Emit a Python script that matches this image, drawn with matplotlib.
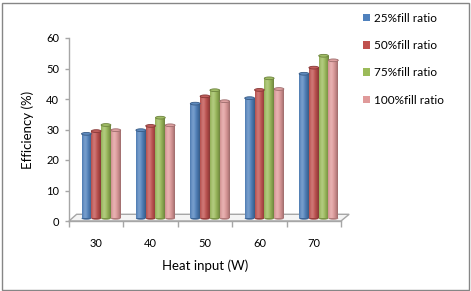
import numpy as np
import matplotlib
matplotlib.use("Agg")
import matplotlib.pyplot as plt
from matplotlib.patches import Ellipse, Polygon, Patch, Rectangle
from matplotlib.colors import to_rgb

plt.rcParams['font.family'] = ['Lato', 'DejaVu Sans']

heat_input = ["30", "40", "50", "60", "70"]
fill25 = [27.7, 28.9, 37.6, 39.4, 47.4]
fill50 = [28.6, 30.3, 40.0, 42.1, 49.4]
fill75 = [30.6, 33.0, 42.0, 45.9, 53.3]
fill100 = [28.9, 30.5, 38.4, 42.4, 51.8]
series_names = ["25%fill ratio", "50%fill ratio", "75%fill ratio", "100%fill ratio"]
series_colors = ["#4F81BD", "#C0504D", "#9BBB59", "#E09A9A"]

series = [fill25, fill50, fill75, fill100]

fig = plt.figure(figsize=(4.71, 2.91), dpi=100)
ax = fig.add_axes([69 / 471, 70 / 291, 272 / 471, 183 / 291])

bar_w = 0.18
shift = 0.09       # 3d depth offset along x
floor_z = 0.88     # bars stand in the middle of the floor
cap_h = 0.9


def shade(color, t):
    # t in [0,1] across the cylinder: dark edges, light stripe near 0.3
    c = np.array(to_rgb(color))
    light = np.exp(-((t - 0.32) / 0.25) ** 2)
    dark = np.clip(np.abs(t - 0.35) / 0.65, 0, 1) ** 2
    out = c * (1 - 0.3 * dark)
    out = out + (1 - out) * 0.22 * light
    return np.clip(out, 0, 1)


x = np.arange(len(heat_input)) + 0.5 + shift
t = np.linspace(0, 1, 40)

for k, (vals, col) in enumerate(zip(series, series_colors)):
    pos = x + (k - 1.5) * bar_w
    bars = ax.bar(pos, vals, width=bar_w, bottom=floor_z, color=col,
                  linewidth=0, zorder=3)
    grad = np.array([shade(col, tt) for tt in t])[None, :, :]
    for b in bars:
        bx, by = b.get_x(), b.get_y()
        bw, bh = b.get_width(), b.get_height()
        im = ax.imshow(grad, extent=(bx, bx + bw, by, by + bh),
                       aspect='auto', zorder=3.5, interpolation='bilinear')
        im.set_clip_path(b)
        cap = Ellipse((bx + bw / 2, by + bh), bw, cap_h,
                      facecolor=shade(col, 0.55), edgecolor=shade(col, 1.0),
                      linewidth=0.6, zorder=4)
        ax.add_patch(cap)
        base = Ellipse((bx + bw / 2, by), bw, cap_h,
                       facecolor=shade(col, 0.9), linewidth=0, zorder=3.2)
        ax.add_patch(base)

ax.set_aspect('auto')
ax.set_xlim(0, 5)
ax.set_ylim(0, 60)

floor = Polygon([(0, 0), (5, 0), (5.15, 2.2), (0.14, 2.2)], closed=True,
                facecolor="#f4f4f4", edgecolor="#a6a6a6", linewidth=1.0,
                zorder=1, clip_on=False)
ax.add_patch(floor)

for s in ["top", "right"]:
    ax.spines[s].set_visible(False)
ax.spines["left"].set_color("#a6a6a6")
ax.spines["bottom"].set_color("#a6a6a6")
ax.spines["left"].set_linewidth(1.0)
ax.spines["bottom"].set_linewidth(1.0)

ax.set_yticks(range(0, 61, 10))
ax.tick_params(axis='y', colors="#a6a6a6", length=3, width=1, pad=4,
               labelcolor="black", labelsize=8)
ax.set_xticks(np.arange(0, 6))
ax.set_xticklabels([])
ax.tick_params(axis='x', which='major', colors="#a6a6a6", length=4, width=1)
ax.set_xticks(np.arange(len(heat_input)) + 0.5, minor=True)
ax.set_xticklabels(heat_input, minor=True)
ax.tick_params(axis='x', which='minor', length=0, pad=12,
               labelcolor="black", labelsize=8)

ax.set_xlabel("Heat input (W)", fontsize=9.5, labelpad=8)
ax.set_ylabel("Efficiency (%)", fontsize=9.5, labelpad=9)

handles = [Patch(facecolor=c, edgecolor='none') for c in series_colors]
fig.legend(handles, series_names, loc='upper left',
           bbox_to_anchor=(358 / 471, 1 - 8 / 291), frameon=False,
           fontsize=8.5, handlelength=0.6, handleheight=0.6,
           handletextpad=0.35, labelspacing=1.38, borderaxespad=0)

fig.patches.append(Rectangle((1.5 / 471, 1.5 / 291), 467 / 471, 287 / 291,
                             transform=fig.transFigure, fill=False,
                             edgecolor="#868686", linewidth=1.0))

fig.savefig("out.png", dpi=100)
